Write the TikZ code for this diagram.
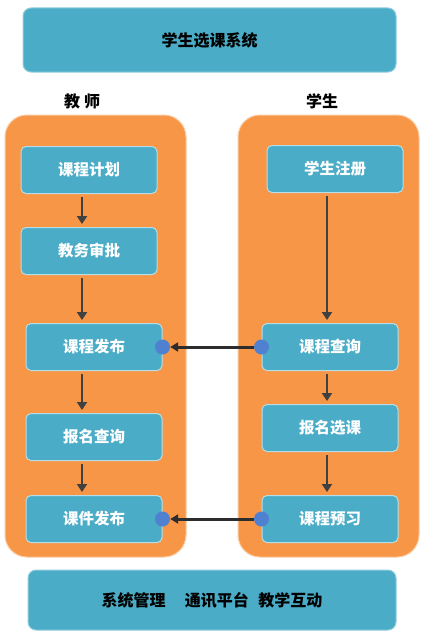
\documentclass[tikz,border=0pt]{standalone}
\usepackage{fontspec}
\newfontfamily\cjk{Noto Sans CJK SC}
\usetikzlibrary{arrows.meta}
\definecolor{teal}{HTML}{4AACC6}
\definecolor{orng}{HTML}{F79646}
\definecolor{dotblue}{HTML}{4F81D0}
\definecolor{arr}{HTML}{404040}
\tikzset{
  x=1pt,y=-1pt,
  container/.style={fill=orng,draw=orng!50!white,line width=1pt,rounded corners=22pt},
  stepbox/.style={fill=teal,draw=teal!40!white,line width=1pt,rounded corners=5pt,minimum width=136pt,minimum height=47pt,text=white,font=\cjk\fontsize{15.5}{18}\selectfont\bfseries},
  bigbox/.style={fill=teal,draw=teal!60!white,line width=1pt,rounded corners=8pt,text=black,font=\cjk\fontsize{16}{19}\selectfont\bfseries},
  head/.style={font=\cjk\fontsize{16}{19}\selectfont\bfseries,text=black},
  flow/.style={draw=arr,line width=2.6pt,-{Triangle[length=8pt,width=10pt]},shorten >=3pt,shorten <=3pt},
  link/.style={draw=arr!70!black,line width=3pt,-{Triangle[length=8pt,width=9pt]},shorten >=0pt},
  dot/.style={circle,fill=dotblue,minimum size=15pt,inner sep=0pt}
}
\begin{document}
\begin{tikzpicture}
\useasboundingbox (0,0) rectangle (444,642);
\fill[white] (0,0) rectangle (444,642);
% top box
\node[bigbox,minimum width=373pt,minimum height=64pt] (sys) at (209.5,40) {学生选课系统};
% headings
\node[head] (th) at (82,101) {教\hspace{4pt}师};
\node[head] (sh) at (322,101) {学生};
% containers
\draw[container] (5,115) rectangle (186,557);
\draw[container] (238,115) rectangle (419,557);
% left column
\node[stepbox] (a1) at (89,170) {课程计划};
\node[stepbox] (a2) at (89,251) {教务审批};
\node[stepbox] (a3) at (94,347) {课程发布};
\node[stepbox] (a4) at (94,437) {报名查询};
\node[stepbox] (a5) at (94,519) {课件发布};
% right column
\node[stepbox] (b1) at (335,169) {学生注册};
\node[stepbox] (b2) at (330,347) {课程查询};
\node[stepbox] (b3) at (330,428) {报名选课};
\node[stepbox] (b4) at (330,519) {课程预习};
% flows
\draw[flow] (a1.south -| 82,0) -- (a2.north -| 82,0);
\draw[flow] (a2.south -| 82,0) -- (a3.north -| 82,0);
\draw[flow] (a3.south -| 82,0) -- (a4.north -| 82,0);
\draw[flow] (a4.south -| 82,0) -- (a5.north -| 82,0);
\draw[flow] (b1.south -| 327,0) -- (b2.north -| 327,0);
\draw[flow] (b2.south -| 327,0) -- (b3.north -| 327,0);
\draw[flow] (b3.south -| 327,0) -- (b4.north -| 327,0);
% horizontal links
\node[dot] (d1) at (a3.east) {};
\node[dot] (d2) at (b2.west) {};
\node[dot] (d3) at (a5.east) {};
\node[dot] (d4) at (b4.west) {};
\draw[link] (d2) -- (d1);
\draw[link] (d4) -- (d3);
% bottom box
\node[bigbox,minimum width=368pt,minimum height=60pt] (bot) at (212,600) {系统管理\hspace{1.2em}通讯平台\hspace{0.6em}教学互动};
\end{tikzpicture}
\end{document}
